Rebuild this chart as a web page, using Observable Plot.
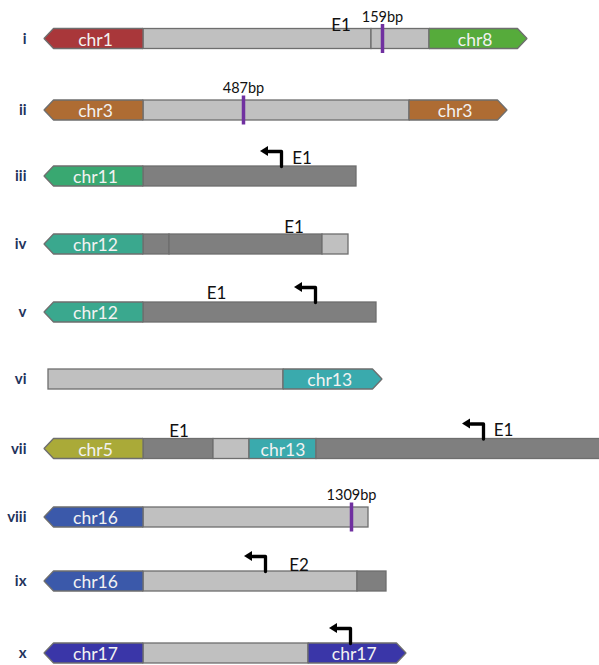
<!DOCTYPE html>
<html><head><meta charset="utf-8">
<script src="https://cdn.jsdelivr.net/npm/d3@7"></script>
<script src="https://cdn.jsdelivr.net/npm/@observablehq/plot@0.6"></script>
<style>body{margin:0;background:#fff;overflow:hidden}</style>
</head><body><div id="chart"></div>
<script>
// rows
const rowNames  = ["i","ii","iii","iv","v","vi","vii","viii","ix","x"];
const rowCenter = [38.5,110,176,244,312,379,448.5,517,581,653];

// segments (layout units along the construct)
const segRow   = [0,0,0,0, 1,1,1, 2,2, 3,3,3,3, 4,4, 5,5, 6,6,6,6,6, 7,7, 8,8,8, 9,9,9];
const segStart = [44,143,371,429, 44,143,409, 44,143, 44,143,169,322, 44,143, 48,283, 44,143,213,249,316, 44,143, 44,143,357, 44,143,308];
const segEnd   = [143,371,429,527, 143,409,507, 143,356, 143,169,322,348, 143,376, 283,382, 143,213,249,316,603, 143,368, 143,357,386, 143,308,406];
const segKind  = ["chr1","light","light","chr8", "chr3","light","chr3", "chr11","dark", "chr12","dark","dark","light", "chr12","dark", "light","chr13", "chr5","dark","light","chr13","dark", "chr16","light", "chr16","light","dark", "chr17","light","chr17"];
const segShape = ["left","box","box","right", "left","box","right", "left","box", "left","box","box","box", "left","box", "box","right", "left","box","box","box","box", "left","box", "left","box","box", "left","box","right"];

const kindColor = {
  light:"#c0c0c0", dark:"#7f7f7f",
  chr1:"#a9373a", chr8:"#56ab3b", chr3:"#ae6c33", chr11:"#39a871",
  chr12:"#3aa88e", chr13:"#3aaaad", chr5:"#aaaa38", chr16:"#3b59aa", chr17:"#3a36a8"
};

// breakpoint markers
const markRow  = [0,1,7];
const markPos  = [382,243,351];
const markText = ["159bp","487bp","1309bp"];

// exon labels
const annoRow  = [0,2,3,4,6,6,8];
const annoPos  = [340.5,301.5,293.5,216,178.5,503,298.5];
const annoText = ["E1","E1","E1","E1","E1","E1","E2"];
const annoLift = [-2,3,2,4,2,3,1];

// promoter arrows
const promRow = [2,4,6,8,9];
const promPos = [281,315,483,265,350];

const H = 10, HEAD = 9.5, BORDER = "#6e6e6e", FONT = "Lato, 'Open Sans', sans-serif";

const segs = segRow.map((r,i)=>({id:i,row:r,c:rowCenter[r],x1:segStart[i],x2:segEnd[i],kind:segKind[i],shape:segShape[i],fill:kindColor[segKind[i]]}));
const boxes = segs.filter(s=>s.shape==="box");
const polys = segs.filter(s=>s.shape!=="box");
const polyPts = polys.flatMap(s=>{
  const c=s.c;
  const pts = s.shape==="left"
    ? [[s.x1,c,c],[s.x1+HEAD,c-H,c+H],[s.x2,c-H,c+H]]
    : [[s.x1,c-H,c+H],[s.x2-HEAD,c-H,c+H],[s.x2,c,c]];
  return pts.map(([x,y1,y2])=>({id:s.id,x,y1,y2,fill:s.fill}));
});
const chrLabels = segs.filter(s=>s.kind.startsWith("chr")).map(s=>({
  x:(s.x1+s.x2)/2 + (s.shape==="left"?1.5:s.shape==="right"?-3.3:0), y:s.c+6.5, text:s.kind}));

const marks = markRow.map((r,i)=>({x:markPos[i],y1:rowCenter[r]-H-4.5,y2:rowCenter[r]+H+4.5,ty:rowCenter[r]-H-7.5,text:markText[i]}));
const annos = annoRow.map((r,i)=>({x:annoPos[i],y:rowCenter[r]-H-annoLift[i],text:annoText[i]}));
const RISE=15, ARM=13, TIP=21;
const promLines = promRow.flatMap((r,i)=>{
  const top=rowCenter[r]-H, x=promPos[i];
  return [{id:i,x,y:top},{id:i,x,y:top-RISE},{id:i,x:x-ARM,y:top-RISE}];
});
const promHeads = promRow.flatMap((r,i)=>{
  const yy=rowCenter[r]-H-RISE, x=promPos[i];
  return [{id:i,x:x-TIP,y1:yy,y2:yy},{id:i,x:x-ARM,y1:yy-5,y2:yy+5}];
});
const rowLabs = rowNames.map((n,i)=>({x:26,y:rowCenter[i]+4.5,text:n}));

const chart = Plot.plot({
  width:599, height:665, margin:0,
  x:{domain:[0,599], range:[0,599], axis:null},
  y:{domain:[0,665], range:[0,665], axis:null},
  style:{fontFamily:FONT, background:"#fff"},
  marks:[
    Plot.rect(boxes,{x1:"x1",x2:"x2",y1:d=>d.c-H,y2:d=>d.c+H,fill:d=>d.fill,stroke:BORDER,strokeWidth:1.3}),
    ...polys.map(s=>Plot.areaY(polyPts.filter(p=>p.id===s.id),{x:"x",y1:"y1",y2:"y2",fill:s.fill,stroke:BORDER,strokeWidth:1.3,strokeLinejoin:"miter"})),
    Plot.text(chrLabels,{x:"x",y:"y",text:"text",lineAnchor:"bottom",fill:"#f2f2f2",fontSize:17.5,fontFamily:FONT}),
    Plot.ruleX(marks,{x:"x",y1:"y1",y2:"y2",stroke:"#7030a0",strokeWidth:3.5}),
    Plot.text(marks,{x:"x",y:"ty",text:"text",lineAnchor:"bottom",fill:"#111",fontSize:14.5,fontFamily:FONT}),
    Plot.text(annos,{x:"x",y:"y",text:"text",lineAnchor:"bottom",fill:"#111",fontSize:17,fontFamily:FONT}),
    Plot.line(promLines,{x:"x",y:"y",z:"id",stroke:"#000",strokeWidth:3.3,strokeLinejoin:"round"}),
    ...promRow.map((r,i)=>Plot.areaY(promHeads.filter(p=>p.id===i),{x:"x",y1:"y1",y2:"y2",fill:"#000"})),
    Plot.text(rowLabs,{x:"x",y:"y",text:"text",textAnchor:"end",lineAnchor:"bottom",fill:"#24335c",fontSize:15,fontWeight:"bold",fontFamily:FONT})
  ]
});
document.getElementById("chart").appendChild(chart);
</script>
</body></html>
